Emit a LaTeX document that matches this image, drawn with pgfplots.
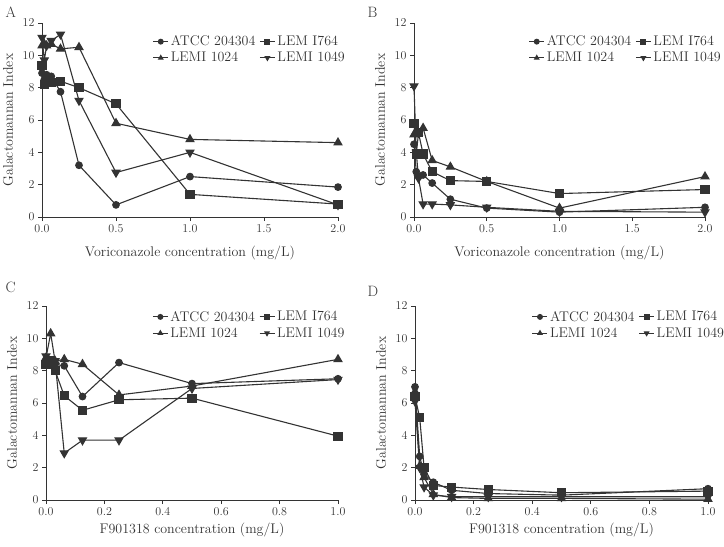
\documentclass[border=0pt]{standalone}
\usepackage{fontspec}
\usepackage{pgfplots}
\pgfplotsset{compat=1.18}
\definecolor{gm}{HTML}{333333}
\newcommand{\tf}{\fontsize{12.5}{14}\selectfont}
\newcommand{\lf}{\fontsize{14}{16}\selectfont}
\pgfplotsset{
  gm/.style={
    scale only axis, height=194pt,
    xmin=0, ymin=0, ymax=12,
    axis lines*=left,
    axis line style={line width=0.9pt, color=gm},
    every tick/.style={line width=0.9pt, color=gm},
    tick align=outside, major tick length=4pt,
    ytick={0,2,...,12},
    clip=false,
    tick label style={font=\tf, text=gm},
    xticklabel style={/pgf/number format/fixed, /pgf/number format/fixed zerofill, /pgf/number format/precision=1},
    ylabel={Galactomannan Index},
    every axis y label/.style={at={(axis description cs:0,0.5)}, xshift=-34pt, rotate=90, anchor=center, font=\lf, text=gm},
    every axis x label/.style={at={(axis description cs:0.5,0)}, yshift=-36pt, anchor=center, font=\lf, text=gm},
    legend columns=2,
    legend cell align=left,
    legend style={draw=none, fill=none, font=\lf, text=gm, row sep=1pt, inner sep=1pt,
      nodes={inner sep=2pt},
      /tikz/every even column/.append style={column sep=2pt}},
    legend image code/.code={%
      \draw[mark repeat=2, mark phase=2, mark size=2.4pt]
        plot coordinates {(0pt,0pt) (7.5pt,0pt) (15pt,0pt)};},
  },
  s/.style={line width=1.1pt, color=gm, mark options={fill=gm, solid}},
  mA/.style={s, mark=*, mark size=3.3pt},
  mB/.style={s, mark=square*, mark size=4pt},
  mC/.style={s, mark=triangle*, mark size=4.5pt},
  mD/.style={s, mark=triangle*, mark size=4.5pt, mark options={rotate=180}},
}
\begin{document}
\begin{tikzpicture}
\useasboundingbox (0,0) rectangle (724pt,-547pt);
% ---------- A ----------
\begin{axis}[gm, width=296pt, at={(42pt,-217pt)}, anchor=south west,
  xmax=2, xtick={0,0.5,1,1.5,2},
  xlabel={Voriconazole concentration (mg/L)},
  legend style={at={(axis description cs:0.37,0.95)}, anchor=north west}]
\addplot[mA] coordinates {(0,8.9) (0.0156,8.5) (0.031,8.8) (0.0625,8.7) (0.125,7.75) (0.25,3.2) (0.5,0.75) (1,2.5) (2,1.85)};
\addplot[mB] coordinates {(0,9.35) (0.0156,8.2) (0.031,8.3) (0.0625,8.3) (0.125,8.4) (0.25,8.0) (0.5,7.0) (1,1.4) (2,0.8)};
\addplot[mC] coordinates {(0,10.6) (0.0156,10.7) (0.031,10.6) (0.0625,10.7) (0.125,10.4) (0.25,10.5) (0.5,5.8) (1,4.8) (2,4.6)};
\addplot[mD] coordinates {(0,11.1) (0.0156,9.7) (0.031,10.6) (0.0625,10.9) (0.125,11.3) (0.25,7.2) (0.5,2.75) (1,4.0) (2,0.75)};
\legend{ATCC 204304, LEM I764, LEMI 1024, LEMI 1049}
\end{axis}
% ---------- B ----------
\begin{axis}[gm, width=291pt, at={(414pt,-217pt)}, anchor=south west,
  xmax=2, xtick={0,0.5,1,1.5,2},
  xlabel={Voriconazole concentration (mg/L)},
  legend style={at={(axis description cs:0.39,0.95)}, anchor=north west}]
\addplot[mA] coordinates {(0,4.5) (0.0156,2.8) (0.031,2.5) (0.0625,2.6) (0.125,2.1) (0.25,1.1) (0.5,0.55) (1,0.3) (2,0.6)};
\addplot[mB] coordinates {(0,5.8) (0.0156,3.9) (0.031,5.2) (0.0625,3.9) (0.125,2.8) (0.25,2.25) (0.5,2.2) (1,1.45) (2,1.7)};
\addplot[mC] coordinates {(0,5.1) (0.0156,5.3) (0.031,5.2) (0.0625,5.5) (0.125,3.5) (0.25,3.1) (0.5,2.2) (1,0.55) (2,2.5)};
\addplot[mD] coordinates {(0,8.1) (0.0156,4.0) (0.031,2.4) (0.0625,0.8) (0.125,0.8) (0.25,0.75) (0.5,0.6) (1,0.35) (2,0.3)};
\legend{ATCC 204304, LEM I764, LEMI 1024, LEMI 1049}
\end{axis}
% ---------- C ----------
\begin{axis}[gm, width=292pt, at={(46pt,-500pt)}, anchor=south west,
  xmax=1, xtick={0,0.2,0.4,0.6,0.8,1},
  xlabel={F901318 concentration (mg/L)},
  every axis x label/.append style={yshift=6pt},
  legend style={at={(axis description cs:0.36,0.99)}, anchor=north west}]
\addplot[mA] coordinates {(0,8.6) (0.016,8.5) (0.031,8.4) (0.0625,8.3) (0.125,6.4) (0.25,8.5) (0.5,7.2) (1,7.5)};
\addplot[mB] coordinates {(0,8.4) (0.016,8.6) (0.031,8.0) (0.0625,6.45) (0.125,5.55) (0.25,6.2) (0.5,6.3) (1,3.95)};
\addplot[mC] coordinates {(0,8.8) (0.016,10.3) (0.031,8.6) (0.0625,8.7) (0.125,8.4) (0.25,6.5) (0.5,7.05) (1,8.7)};
\addplot[mD] coordinates {(0,8.9) (0.016,8.7) (0.031,8.6) (0.0625,2.9) (0.125,3.7) (0.25,3.7) (0.5,6.9) (1,7.45)};
\legend{ATCC 204304, LEM I764, LEMI 1024, LEMI 1049}
\end{axis}
% ---------- D ----------
\begin{axis}[gm, width=293pt, at={(415pt,-500pt)}, anchor=south west,
  xmax=1, xtick={0,0.2,0.4,0.6,0.8,1},
  xlabel={F901318 concentration (mg/L)},
  every axis x label/.append style={yshift=6pt},
  legend style={at={(axis description cs:0.395,0.99)}, anchor=north west}]
\addplot[mA] coordinates {(0,7.0) (0.016,2.7) (0.031,1.6) (0.0625,1.1) (0.125,0.6) (0.25,0.4) (0.5,0.3) (1,0.7)};
\addplot[mB] coordinates {(0,6.4) (0.016,5.1) (0.031,2.0) (0.0625,0.9) (0.125,0.8) (0.25,0.65) (0.5,0.45) (1,0.55)};
\addplot[mC] coordinates {(0,6.7) (0.016,2.1) (0.031,1.4) (0.0625,0.35) (0.125,0.15) (0.25,0.1) (0.5,0.1) (1,0.05)};
\addplot[mD] coordinates {(0,6.1) (0.016,2.0) (0.031,0.8) (0.0625,0.3) (0.125,0.2) (0.25,0.2) (0.5,0.2) (1,0.2)};
\legend{ATCC 204304, LEM I764, LEMI 1024, LEMI 1049}
\end{axis}
% panel letters
\node[font=\fontsize{15}{17}\selectfont, text=gm, anchor=west] at (2pt,-12pt) {A};
\node[font=\fontsize{15}{17}\selectfont, text=gm, anchor=west] at (364pt,-12pt) {B};
\node[font=\fontsize{15}{17}\selectfont, text=gm, anchor=west] at (2pt,-287pt) {C};
\node[font=\fontsize{15}{17}\selectfont, text=gm, anchor=west] at (364pt,-291pt) {D};
\end{tikzpicture}
\end{document}
